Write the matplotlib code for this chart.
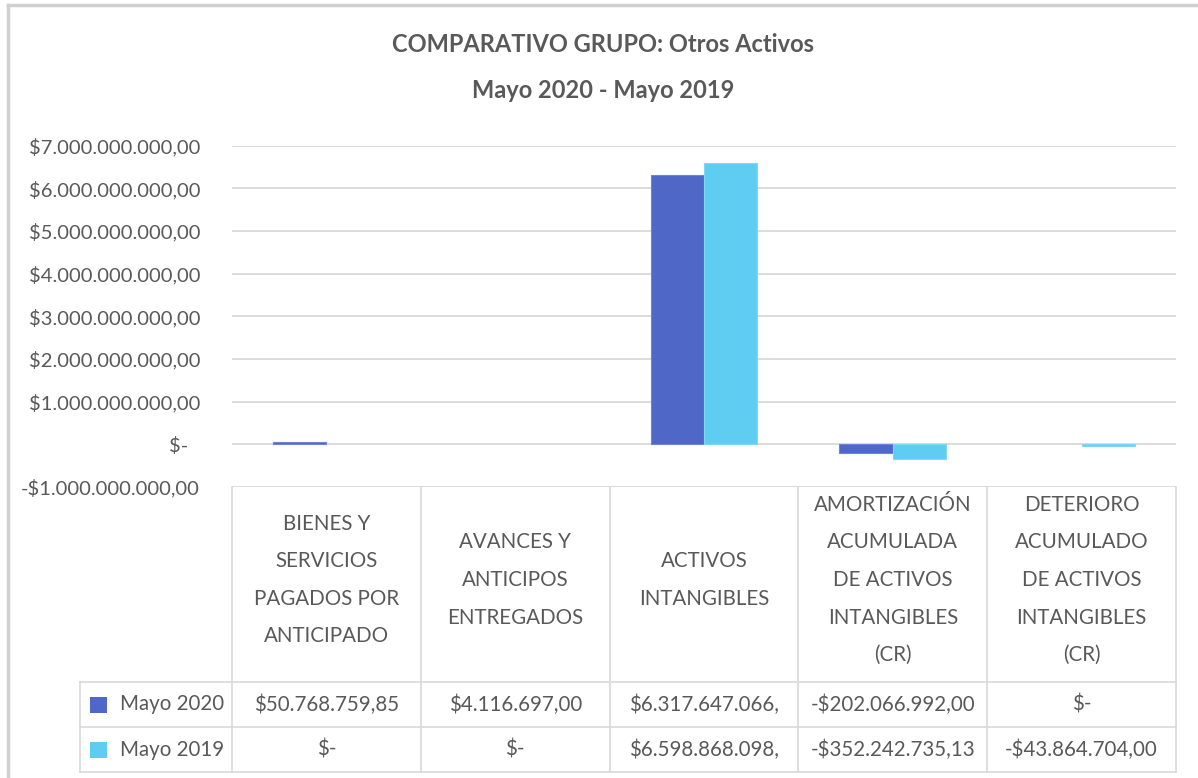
import matplotlib
matplotlib.use("Agg")
import matplotlib.pyplot as plt
import matplotlib.transforms as mtransforms
from matplotlib.lines import Line2D
from matplotlib.patches import Rectangle
from matplotlib.ticker import FuncFormatter, MultipleLocator
import numpy as np

plt.rcParams['font.family'] = ['Lato', 'DejaVu Sans']

# Data
categories = [
    "BIENES Y\nSERVICIOS\nPAGADOS POR\nANTICIPADO",
    "AVANCES Y\nANTICIPOS\nENTREGADOS",
    "ACTIVOS\nINTANGIBLES",
    "AMORTIZACIÓN\nACUMULADA\nDE ACTIVOS\nINTANGIBLES\n(CR)",
    "DETERIORO\nACUMULADO\nDE ACTIVOS\nINTANGIBLES\n(CR)",
]
series_names = ["Mayo 2020", "Mayo 2019"]
mayo_2020 = [50768759.85, 4116697.00, 6317647066.0, -202066992.00, 0.0]
mayo_2019 = [0.0, 0.0, 6598868098.0, -352242735.13, -43864704.00]
mayo_2020_text = ["$50.768.759,85", "$4.116.697,00", "$6.317.647.066,", "-$202.066.992,00", "$-"]
mayo_2019_text = ["$-", "$-", "$6.598.868.098,", "-$352.242.735,13", "-$43.864.704,00"]

colors = ["#4F68C8", "#5FCDF2"]
edge_colors = ["#6F84D4", "#7ED8F6"]
text_color = "#595959"
grid_color = "#D9D9D9"

W, H = 1198, 778
fig = plt.figure(figsize=(W / 100, H / 100), dpi=100)

def fy(py):
    return 1 - py / H

# outer chart border (only left/top visible)
fig.add_artist(Line2D([8 / W, 8 / W], [0, fy(5)], transform=fig.transFigure,
                      color="#D0D0D0", linewidth=2.5))
fig.add_artist(Line2D([8 / W, 1], [fy(5), fy(5)], transform=fig.transFigure,
                      color="#D0D0D0", linewidth=2.5))

ax_left, ax_right, ax_top, ax_bottom = 232, 1176, 145.7, 487
ax = fig.add_axes([ax_left / W, fy(ax_bottom), (ax_right - ax_left) / W, (ax_bottom - ax_top) / H])

x = np.arange(len(categories))
bw = 0.283
for i, (vals, name) in enumerate(zip([mayo_2020, mayo_2019], series_names)):
    lw = [0.8 if abs(v) > 2e7 else 0 for v in vals]
    ax.bar(x + (i - 0.5) * bw, vals, width=bw, color=colors[i], edgecolor=edge_colors[i],
           linewidth=lw, label=name, zorder=3)

ax.set_xlim(-0.5, len(categories) - 0.5)
ax.set_ylim(-1e9, 7e9)
ax.yaxis.set_major_locator(MultipleLocator(1e9))

def money(v, pos=None):
    if abs(v) < 1:
        return "$-"
    s = f"{abs(v):,.2f}".replace(",", "X").replace(".", ",").replace("X", ".")
    return ("-$" if v < 0 else "$") + s

ax.yaxis.set_major_formatter(FuncFormatter(money))
ax.tick_params(axis="y", length=0, pad=23, labelsize=14.5, labelcolor=text_color)
ax.set_xticks([])
ax.grid(axis="y", color=grid_color, linewidth=1.3, zorder=0)
for s in ax.spines.values():
    s.set_visible(False)

fig.canvas.draw()
for lab in ax.get_yticklabels():
    if lab.get_text() == "$-":
        lab.set_transform(lab.get_transform() + mtransforms.ScaledTranslation(-12 / 100, 0, fig.dpi_scale_trans))

# Titles
fig.text(603 / W, fy(45), "COMPARATIVO GRUPO: Otros Activos", ha="center", va="center",
         fontsize=17, fontweight="bold", color=text_color)
fig.text(603 / W, fy(90), "Mayo 2020 - Mayo 2019", ha="center", va="center",
         fontsize=17, fontweight="bold", color=text_color)

# Data table
tr = mtransforms.blended_transform_factory(ax.transData, fig.transFigure)
header_top, row1, row2, row3 = 487, 682, 727, 772
legend_left = 80 / W
edges = np.arange(len(categories) + 1) - 0.5
table_fs = 14.8

def fline(xs, ys, transform):
    fig.add_artist(Line2D(xs, ys, transform=transform, color=grid_color, linewidth=1.2))

for e in edges:
    fline([e, e], [fy(header_top), fy(row3)], tr)
for py in [row1, row2, row3]:
    fline([legend_left, ax_right / W], [fy(py), fy(py)], fig.transFigure)
fline([legend_left, legend_left], [fy(row1), fy(row3)], fig.transFigure)

line_gap = 37.5
header_center = 580
for i, cat in enumerate(categories):
    lines = cat.split("\n")
    n = len(lines)
    for k, ln in enumerate(lines):
        py = header_center + (k - (n - 1) / 2) * line_gap
        fig.text(x[i], fy(py), ln, transform=tr, ha="center", va="center",
                 fontsize=table_fs, color=text_color)

row_centers = [(row1 + row2) / 2, (row2 + row3) / 2]
for r, (texts, name) in enumerate(zip([mayo_2020_text, mayo_2019_text], series_names)):
    yc = fy(row_centers[r])
    for i, t in enumerate(texts):
        fig.text(x[i], yc, t, transform=tr, ha="center", va="center", fontsize=table_fs,
                 color=text_color)
    fig.add_artist(Rectangle((90 / W, yc - 8 / H), 17 / W, 16 / H, transform=fig.transFigure,
                             facecolor=colors[r], edgecolor="none"))
    fig.text(120 / W, yc, name, ha="left", va="center", fontsize=table_fs, color=text_color)

fig.savefig("out.png", dpi=100)
